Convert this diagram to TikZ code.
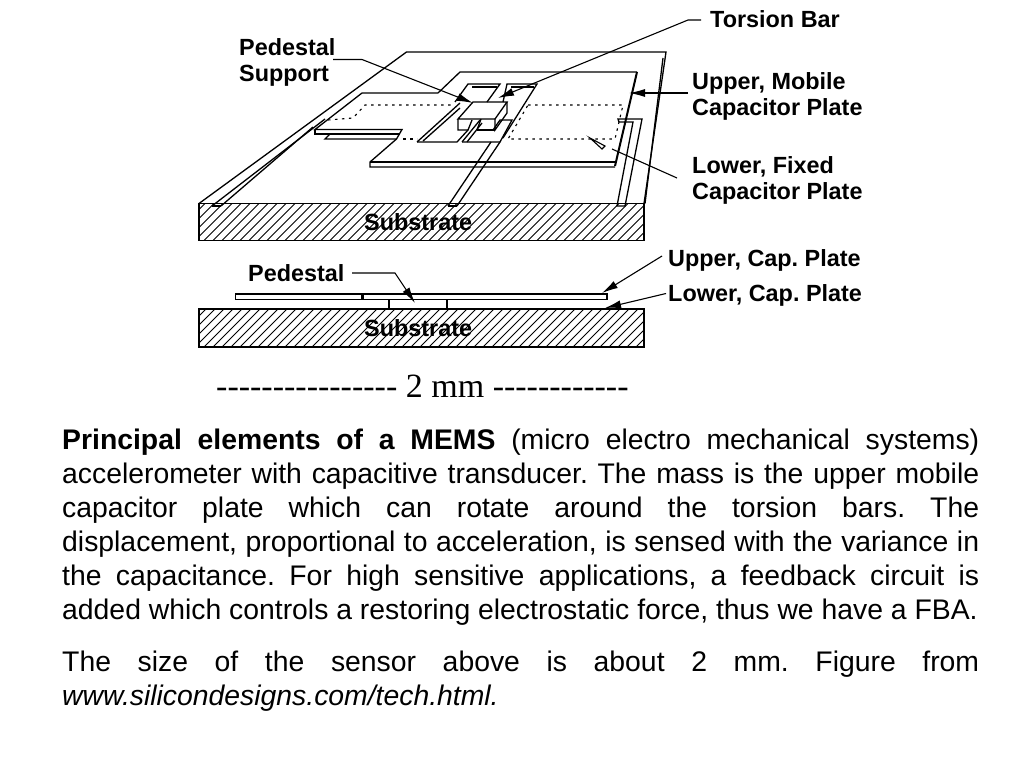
\documentclass[tikz,border=0pt]{standalone}
\usepackage{fontspec}
\setmainfont{Liberation Sans}
\newfontfamily\serifface{Liberation Serif}
\usetikzlibrary{arrows.meta,positioning}

\begin{document}
\begin{tikzpicture}[x=1pt,y=-1pt]
\tikzstyle{outline}=[line width=1.3pt,line join=miter]
\tikzstyle{hidden}=[line width=1.1pt,dash pattern=on 2.5pt off 4.5pt]
\tikzstyle{leader}=[line width=1.1pt,-{Latex[length=16pt,width=8pt]}]
\tikzstyle{callout}=[font=\fontsize{23.4}{26}\selectfont\bfseries,inner sep=0pt,align=left]
\tikzstyle{bodytext}=[font=\fontsize{28.35}{34}\selectfont,inner sep=0pt,text width=917pt,align=justify,anchor=north west]

%% Hatched block: #1=top y, #2=bottom y
\newcommand{\Slab}[2]{
    \begin{scope}
    \clip (199,#1) rectangle (644,#2);
    \foreach \hx in {150,159,...,690}
        \draw[line width=1pt] (\hx,#2) -- (\hx+#2-#1,#1);
    \end{scope}
    \draw[line width=1.4pt] (199,#1) rectangle (644,#2);
}

\useasboundingbox (0,0) rectangle (1024,768);

%% ========== 3D VIEW ==========
\Slab{203.5}{240.5}
% Frame
\draw[outline] (199,203.5) -- (406.5,52) -- (666,52) -- (644,203.5);
\draw[outline] (663,58) -- (645,203.5);

% Leads
\draw[outline] (212,206) -- (325,119);
\draw[outline] (221,206) -- (313,127);
\draw[outline] (212,206) -- (221,206);
\draw[outline] (617,206) -- (633,122) -- (619,122) -- (618,119) -- (642,119) -- (625,206) -- cycle;
\draw[outline] (448,206) -- (491,142);
\draw[outline] (457,206) -- (500,142);
\draw[outline] (448,206) -- (457,206);

% Upper plate
\draw[outline] (438,93) -- (460,72) -- (637,72);
\draw[line width=2pt] (637,72) -- (615,166);
\draw[outline] (438,93) -- (362,93) -- (315,129.5) -- (402,129.5) -- (396.5,139) -- (325,139) -- (330,134);
\draw[outline] (315,129.5) -- (315,134) -- (399.5,134);
\draw[outline] (396.5,139) -- (370,162) -- (370,167) -- (615,167);
\draw[line width=1.8pt] (370,162) -- (615,162);

% Lower plate, seen through
\draw[hidden] (328,120) -- (353,118) -- (365,105) -- (453,105);
\draw[hidden] (403,139) -- (417,139);
\draw[hidden] (528,105) -- (623,105) -- (615,139) -- (508,139) -- cycle;

% Slots and pedestal
\draw[outline] (417,142) -- (460,103);
\draw[outline] (423,141) -- (460,108);
\draw[outline] (417,142) -- (457,142) -- (468,130);
\draw[outline] (455,102) -- (468,84) -- (500,84) -- (487,102);
\draw[outline] (472,87) -- (497,87);
\draw[outline] (462,142) -- (480,120);
\draw[outline] (467,142) -- (482,123);
\draw[outline] (462,142) -- (500,142) -- (512,120) -- (500,120) -- (493,130);
\draw[outline] (503,102) -- (507,84) -- (537,84) -- (503,138);
\draw[outline] (511,87) -- (534,87);
\draw[outline] (473,102) -- (507,102) -- (495,119) -- (458,119) -- cycle;
\draw[outline] (507,102) -- (507,113) -- (495,130) -- (495,119);
\draw[outline] (458,119) -- (458,130) -- (468,130) -- (472,120);
\draw[outline] (477,130) -- (495,130);
\draw[outline] (477,130) -- (481,119);

%% ========== SIDE VIEW ==========
\Slab{309}{347}
\draw[line width=1.4pt] (235.5,294) rectangle (361.5,299.5);
\draw[line width=1.4pt] (363,294) rectangle (607,299.5);
\draw[line width=1.4pt] (389,299.5) -- (389,309) -- (447,309) -- (447,299.5);
\draw[line width=2pt] (389,309) -- (447,309);

%% ========== LABELS ==========
\node[callout,anchor=west] (lbl-torsion) at (710,19) {Torsion Bar};
\node[callout,anchor=west] (lbl-support) at (239,62) {Pedestal\\Support};
\node[callout,anchor=west] (lbl-upper) at (692,96) {Upper, Mobile\\Capacitor Plate};
\node[callout,anchor=west] (lbl-lower) at (692,180) {Lower, Fixed\\Capacitor Plate};
\node[callout,anchor=west] (lbl-sub1) at (364,222) {Substrate};
\node[callout,anchor=west] (lbl-sub2) at (364,328) {Substrate};
\node[callout,anchor=west] (lbl-pedestal) at (248,273) {Pedestal};
\node[callout,anchor=west] (lbl-capup) at (668,260) {Upper, Cap.\ Plate};
\node[callout,anchor=west] (lbl-caplow) at (668,295) {Lower, Cap.\ Plate};

%% ========== CONNECTIONS ==========
\coordinate (tip-support) at (473,103);
\coordinate (tip-torsion) at (498,98);
\coordinate (tip-upper) at (629,93);
\coordinate (tip-pedestal) at (415,303);
\coordinate (tip-capup) at (602,293);
\coordinate (tip-caplow) at (605,308);
\coordinate (end-lower) at (612,149);
\coordinate (start-support) at (333,59.5);
\coordinate (start-torsion) at (701,20);
\coordinate (start-upper) at (688,93);
\coordinate (start-lower) at (677,178);
\coordinate (start-pedestal) at (352,273);
\coordinate (start-capup) at (662,256);
\coordinate (start-caplow) at (666,293.5);

\draw[leader] (start-support) -- (362,59.5) -- (tip-support);
\draw[leader] (start-torsion) -- (688,20) -- (tip-torsion);
\draw[leader] (start-upper) -- (tip-upper);
\draw[leader] (start-pedestal) -- (395,273) -- (tip-pedestal);
\draw[leader] (start-capup) -- (tip-capup);
\draw[leader] (start-caplow) -- (tip-caplow);
\draw[line width=1.1pt] (start-lower) -- (end-lower);
% Open head on the hidden plate
\draw[line width=1.1pt,fill=white] (590,138) -- (605,146) -- (602,149) -- cycle;

%% ========== CAPTION ==========
\node[font=\fontsize{34}{38}\selectfont\serifface,inner sep=0pt,anchor=west] (scale) at (216,386) {-{}-{}-{}-{}-{}-{}-{}-{}-{}-{}-{}-{}-{}-{}-{}-{} 2 mm -{}-{}-{}-{}-{}-{}-{}-{}-{}-{}-{}-{}};

\node[bodytext] (para1) at (62,429) {\sloppy\frenchspacing\textbf{Principal elements of a MEMS} (micro electro mechanical systems)\linebreak
accelerometer with capacitive transducer. The mass is the upper mobile\linebreak
capacitor plate which can rotate around the torsion bars. The\linebreak
displacement, proportional to acceleration, is sensed with the variance in\linebreak
the capacitance. For high sensitive applications, a feedback circuit is\linebreak
added which controls a restoring electrostatic force, thus we have a FBA.};
\node[bodytext,below=25pt of para1.south west,anchor=north west] (para2) {\sloppy\frenchspacing The size of the sensor above is about 2 mm. Figure from\linebreak
\textit{www.silicondesigns.com/tech.html.}};

\end{tikzpicture}
\end{document}
